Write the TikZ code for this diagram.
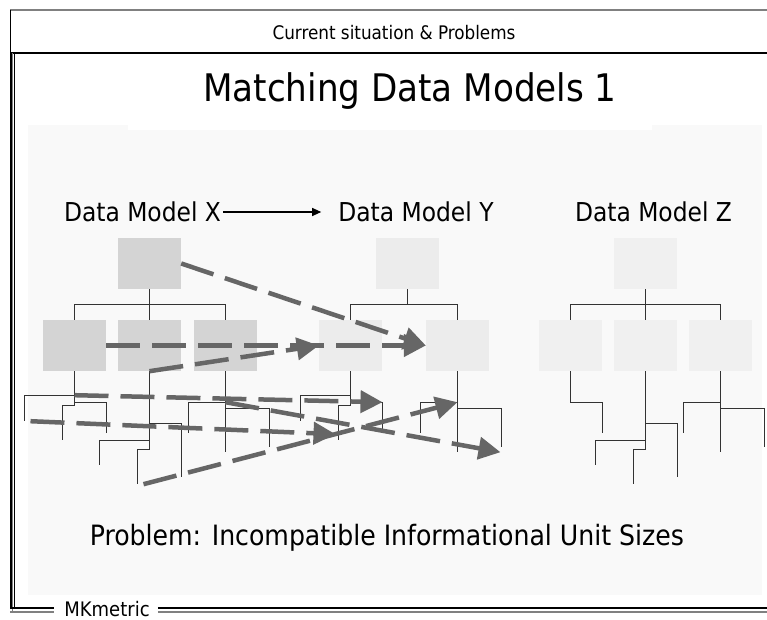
\documentclass[tikz,border=0pt]{standalone}
\usepackage{fontspec}
\setmainfont{DejaVu Sans Condensed}
\usetikzlibrary{arrows.meta}

\definecolor{panelbg}{HTML}{F9F9F9}
\definecolor{boxX}{HTML}{D4D4D4}
\definecolor{boxY}{HTML}{ECECEC}
\definecolor{boxZ}{HTML}{F0F0F0}
\definecolor{mapgray}{HTML}{666666}
\definecolor{treegray}{HTML}{333333}

\tikzset{
  entity/.style={minimum width=63pt, minimum height=51pt, inner sep=0pt, draw=none},
  treeline/.style={draw=treegray, line width=1.3pt},
  maparrow/.style={draw=mapgray, line width=4.5pt, dash pattern=on 34pt off 12pt,
    -{Triangle[length=22pt,width=22pt]}},
  label/.style={inner sep=0pt, font=\fontsize{26}{30}\selectfont},
  % leaf structures hanging below a child entity
  treeA/.pic={
    \draw[treeline] (0,0) -- (0,34);
    \draw[treeline] (0,24) -- (-50,24) -- (-50,50);
    \draw[treeline] (0,31) -- (32,31) -- (32,62);
    \draw[treeline] (0,34) -- (-12,34) -- (-12,69);
    \coordinate (-j) at (0,24);
    \coordinate (-l) at (-44,50);
    \coordinate (-r) at (32,31);
    \coordinate (-m) at (-15,63);
  },
  treeZ/.pic={
    \draw[treeline] (0,0) -- (0,31) -- (32,31) -- (32,62);
  },
  treeB/.pic={
    \draw[treeline] (0,0) -- (0,78);
    \draw[treeline] (0,52) -- (32,52) -- (32,106);
    \draw[treeline] (0,69) -- (-50,69) -- (-50,94);
    \draw[treeline] (0,78) -- (-12,78) -- (-12,113);
    \coordinate (-s) at (-6,113);
  },
  treeC/.pic={
    \draw[treeline] (0,0) -- (0,81);
    \draw[treeline] (0,31) -- (-37,31) -- (-37,62);
    \draw[treeline] (0,37) -- (44,37) -- (44,76);
    \coordinate (-j) at (0,31);
    \coordinate (-e) at (43,81);
  },
}

\begin{document}
\begin{tikzpicture}[x=1pt, y=-1pt]
\useasboundingbox (0,0) rectangle (767,620);
\fill[white] (0,0) rectangle (767,620);

% light panel behind the models
\fill[panelbg] (28,130) rectangle (762,595);
\fill[panelbg] (28,125) rectangle (128,130);
\fill[panelbg] (652,125) rectangle (762,130);

% header strip
\draw[gray, line width=1.2pt] (10,10) -- (767,10);
\draw[black, line width=1pt] (10,10) -- (10,53);
\draw[black, line width=1.5pt] (10,53) -- (767,53);
\node[font=\fontsize{18.7}{22}\selectfont] (hdr) at (394,33) {Current situation \& Problems};

% double frame on the left and bottom
\draw[black, line width=1.6pt] (11,53) -- (11,609);
\draw[gray, line width=1pt] (12.8,53) -- (12.8,612);
\draw[black, line width=1.2pt] (14.5,53) -- (14.5,607);
\node[font=\fontsize{20}{24}\selectfont, inner sep=0pt, anchor=base] (mk) at (107,616) {MKmetric};
\draw[black, line width=2pt] (10,608) -- ([xshift=-10pt]mk.west |- 0,608);
\draw[black, line width=2pt] ([xshift=8pt]mk.east |- 0,608) -- (767,608);
\draw[gray, line width=1.2pt] (10,612) -- ([xshift=-10pt]mk.west |- 0,612);
\draw[gray, line width=1.2pt] ([xshift=8pt]mk.east |- 0,612) -- (767,612);

% title
\node[font=\fontsize{38}{44}\selectfont, anchor=base] (title) at (410,102) {Matching Data Models 1};

% model labels
\node[label] (lx) at (142.5,212) {Data Model X};
\node[label] (ly) at (416,212) {Data Model Y};
\node[label] (lz) at (653.5,212) {Data Model Z};
\draw[black, line width=1.2pt, -{Triangle[length=9pt,width=8pt]}] ([xshift=2pt]lx.east) -- ([xshift=-17pt]ly.west);

% entities of model X
\node[entity, fill=boxX] (xr) at (149.5,263.5) {};
\node[entity, fill=boxX] (x1) at (74.5,345.5) {};
\node[entity, fill=boxX] (x2) at (149.5,345.5) {};
\node[entity, fill=boxX] (x3) at (225.5,345.5) {};
% entities of model Y
\node[entity, fill=boxY] (yr) at (407.5,263.5) {};
\node[entity, fill=boxY] (y1) at (350.5,345.5) {};
\node[entity, fill=boxY] (y2) at (457.5,345.5) {};
% entities of model Z
\node[entity, fill=boxZ] (zr) at (645.5,263.5) {};
\node[entity, fill=boxZ] (z1) at (570.5,345.5) {};
\node[entity, fill=boxZ] (z2) at (645.5,345.5) {};
\node[entity, fill=boxZ] (z3) at (720.5,345.5) {};

% root-to-child links
\draw[treeline] (xr.south) -- (x2.north);
\draw[treeline] (xr.south) ++(0,15) -| (x1.north);
\draw[treeline] (xr.south) ++(0,15) -| (x3.north);
\draw[treeline] (yr.south) -- ++(0,15) -| (y1.north);
\draw[treeline] (yr.south) ++(0,15) -| (y2.north);
\draw[treeline] (zr.south) -- (z2.north);
\draw[treeline] (zr.south) ++(0,15) -| (z1.north);
\draw[treeline] (zr.south) ++(0,15) -| (z3.north);

% leaves
\pic (tx1) at (x1.south) {treeA};
\pic (tx2) at (x2.south) {treeB};
\pic (tx3) at (x3.south) {treeC};
\pic (ty1) at (y1.south) {treeA};
\pic (ty2) at (y2.south) {treeC};
\pic (tz1) at (z1.south) {treeZ};
\pic (tz2) at (z2.south) {treeB};
\pic (tz3) at (z3.south) {treeC};

% mappings from X to Y
\draw[maparrow] (xr.east) -- (y2.west);
\draw[maparrow] (x1.east) -- (y2.west);
\draw[maparrow] (x2.south) -- (y1.west);
\draw[maparrow] (tx1-j) -- (ty1-r);
\draw[maparrow] (tx1-l) -- (ty1-m);
\draw[maparrow] (tx3-j) -- (ty2-e);
\draw[maparrow] (tx2-s) -- (ty2-j);

% problem statement
\node[font=\fontsize{28}{32}\selectfont] (prob) at (387,538) {Problem: Incompatible Informational Unit Sizes};
\end{tikzpicture}
\end{document}
